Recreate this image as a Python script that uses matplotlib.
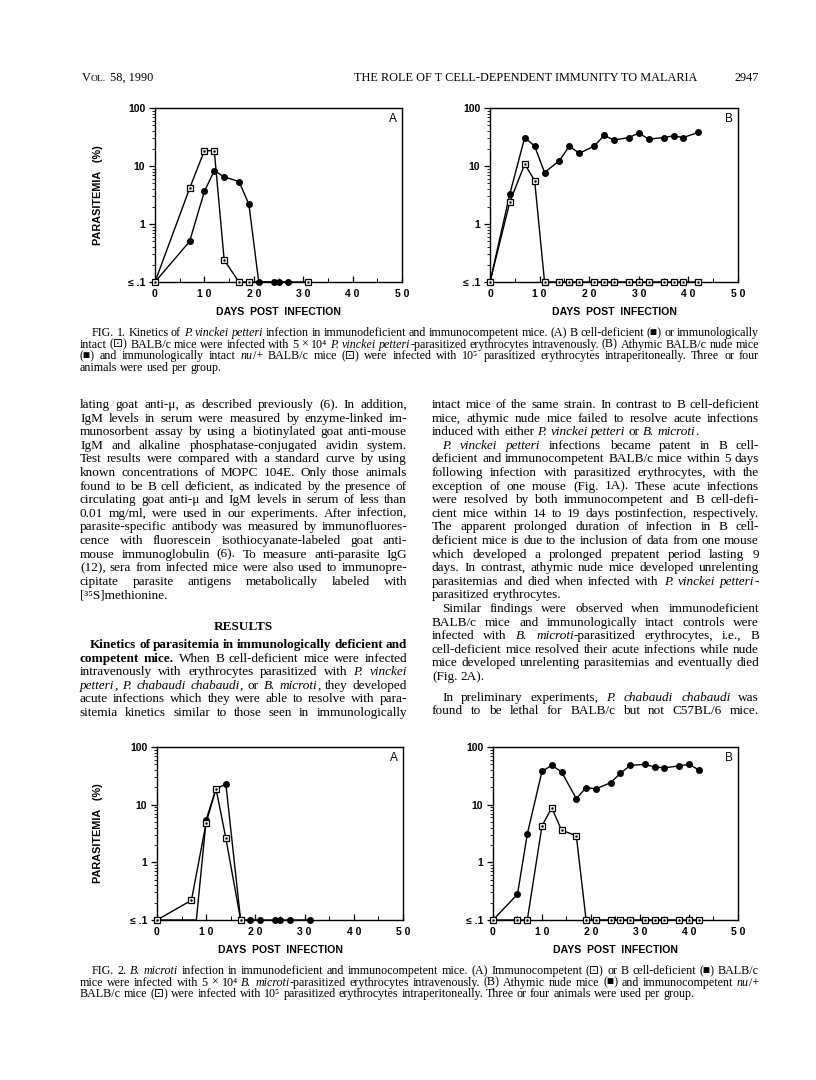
import matplotlib
matplotlib.use('Agg')
import matplotlib.pyplot as plt
from matplotlib.ticker import FixedLocator, NullFormatter, MultipleLocator, LogLocator

# values: days post infection / % parasitemia
# (0.1 = the "<= .1" baseline)
days_1a_intact = [0, 7, 10, 12, 14, 17, 19, 31]
para_1a_intact = [0.1, 4.1, 18.4, 18.4, 0.24, 0.1, 0.1, 0.1]
days_1a_bdef = [0, 7, 10, 12, 14, 17, 19, 21, 24, 25, 27]
para_1a_bdef = [0.1, 0.5, 3.65, 8.3, 6.5, 5.4, 2.2, 0.1, 0.1, 0.1, 0.1]

days_1b = [0, 4, 7, 9, 11, 14, 16, 18, 21, 23, 25, 28, 30, 32, 35, 37, 39, 42]
para_1b_nude = [0.1, 3.3, 31, 22, 7.7, 12.4, 22, 16.6, 22, 33.6, 28, 31, 37, 29, 31, 33, 31, 38]
para_1b_het = [0.1, 2.4, 10.8, 5.6, 0.1, 0.1, 0.1, 0.1, 0.1, 0.1, 0.1, 0.1, 0.1, 0.1, 0.1, 0.1, 0.1, 0.1]

days_2a_intact = [0, 7, 10, 12, 14, 17]
para_2a_intact = [0.1, 0.22, 4.9, 18.8, 2.6, 0.1]
days_2a_bdef = [0, 8, 10, 12, 14, 17, 19, 21, 24, 25, 27, 31]
para_2a_bdef = [0.1, 0.1, 5.5, 19, 22.6, 0.1, 0.1, 0.1, 0.1, 0.1, 0.1, 0.1]

days_2b = [0, 5, 7, 10, 12, 14, 17, 19, 21, 24, 26, 28, 31, 33, 35, 38, 40, 42]
para_2b_nude = [0.1, 0.28, 3.1, 38, 48, 37, 12.7, 19.8, 18.8, 24, 35, 48, 50, 45, 43.6, 47, 50, 40]
para_2b_het = [0.1, 0.1, 0.1, 4.3, 8.8, 3.6, 2.9, 0.1, 0.1, 0.1, 0.1, 0.1, 0.1, 0.1, 0.1, 0.1, 0.1, 0.1]

y_ticks = [0.1, 1, 10, 100]
y_ticklabels = ['\u2264 .1', '1', '10', '100']
x_ticks = [0, 10, 20, 30, 40, 50]
x_ticklabels = ['0', '1 0', '2 0', '3 0', '4 0', '5 0']

# page text (* toggles italic, # toggles bold)
header_mid = 'THE ROLE OF T CELL-DEPENDENT IMMUNITY TO MALARIA'
header_page = '2947'

caption1 = [
    "FIG. 1. Kinetics of *P. vinckei petteri* infection in immunodeficient and immunocompetent mice. (A) B cell-deficient (\u25a0) or immunologically",
    "intact (\u22a1) BALB/c mice were infected with 5 \u00d7 10\u2074 *P. vinckei petteri*-parasitized erythrocytes intravenously. (B) Athymic BALB/c nude mice",
    "(\u25a0) and immunologically intact *nu*/+ BALB/c mice (\u22a1) were infected with 10\u2075 parasitized erythrocytes intraperitoneally. Three or four",
    "animals were used per group.",
]
caption2 = [
    "FIG. 2. *B. microti* infection in immunodeficient and immunocompetent mice. (A) Immunocompetent (\u22a1) or B cell-deficient (\u25a0) BALB/c",
    "mice were infected with 5 \u00d7 10\u2074 *B. microti*-parasitized erythrocytes intravenously. (B) Athymic nude mice (\u25a0) and immunocompetent *nu*/+",
    "BALB/c mice (\u22a1) were infected with 10\u2075 parasitized erythrocytes intraperitoneally. Three or four animals were used per group.",
]

left_col = [
    "lating goat anti-\u03bc, as described previously (6). In addition,",
    "IgM levels in serum were measured by enzyme-linked im-",
    "munosorbent assay by using a biotinylated goat anti-mouse",
    "IgM and alkaline phosphatase-conjugated avidin system.",
    "Test results were compared with a standard curve by using",
    "known concentrations of MOPC 104E. Only those animals",
    "found to be B cell deficient, as indicated by the presence of",
    "circulating goat anti-\u03bc and IgM levels in serum of less than",
    "0.01 mg/ml, were used in our experiments. After infection,",
    "parasite-specific antibody was measured by immunofluores-",
    "cence with fluorescein isothiocyanate-labeled goat anti-",
    "mouse immunoglobulin (6). To measure anti-parasite IgG",
    "(12), sera from infected mice were also used to immunopre-",
    "cipitate parasite antigens metabolically labeled with",
    "[\u00b3\u2075S]methionine.",
]
results_par = [
    "#Kinetics of parasitemia in immunologically deficient and#",
    "#competent mice.# When B cell-deficient mice were infected",
    "intravenously with erythrocytes parasitized with *P. vinckei*",
    "*petteri*, *P. chabaudi chabaudi*, or *B. microti*, they developed",
    "acute infections which they were able to resolve with para-",
    "sitemia kinetics similar to those seen in immunologically",
]
right_col = [
    "intact mice of the same strain. In contrast to B cell-deficient",
    "mice, athymic nude mice failed to resolve acute infections",
    "induced with either *P. vinckei petteri* or *B. microti*.",
    "*P. vinckei petteri* infections became patent in B cell-",
    "deficient and immunocompetent BALB/c mice within 5 days",
    "following infection with parasitized erythrocytes, with the",
    "exception of one mouse (Fig. 1A). These acute infections",
    "were resolved by both immunocompetent and B cell-defi-",
    "cient mice within 14 to 19 days postinfection, respectively.",
    "The apparent prolonged duration of infection in B cell-",
    "deficient mice is due to the inclusion of data from one mouse",
    "which developed a prolonged prepatent period lasting 9",
    "days. In contrast, athymic nude mice developed unrelenting",
    "parasitemias and died when infected with *P. vinckei petteri*-",
    "parasitized erythrocytes.",
    "Similar findings were observed when immunodeficient",
    "BALB/c mice and immunologically intact controls were",
    "infected with *B. microti*-parasitized erythrocytes, i.e., B",
    "cell-deficient mice resolved their acute infections while nude",
    "mice developed unrelenting parasitemias and eventually died",
    "(Fig. 2A).",
]
right_col2 = [
    "In preliminary experiments, *P. chabaudi chabaudi* was",
    "found to be lethal for BALB/c but not C57BL/6 mice.",
]

SERIF = ['Liberation Serif', 'DejaVu Sans']
SANS = ['Liberation Sans', 'DejaVu Sans']
plt.rcParams['font.family'] = SANS

W, H = 816, 1080
fig = plt.figure(figsize=(W / 100, H / 100), dpi=100)
renderer = fig.canvas.get_renderer()


def fpos(x, y):
    return (x / W, 1 - y / H)


def split_words(line):
    words, cur, run, st = [], [], '', 'n'
    for ch in line:
        if ch in '*#':
            if run:
                cur.append((run, st))
                run = ''
            new = 'i' if ch == '*' else 'b'
            st = 'n' if st == new else new
        elif ch == ' ':
            if run:
                cur.append((run, st))
                run = ''
            if cur:
                words.append(cur)
                cur = []
        else:
            run += ch
    if run:
        cur.append((run, st))
    if cur:
        words.append(cur)
    return words


def make_words(line, size):
    words = []
    for w in split_words(line):
        parts = []
        for txt, st in w:
            t = fig.text(0, 0, txt, fontsize=size, family=SERIF, ha='left', va='baseline',
                         fontstyle='italic' if st == 'i' else 'normal',
                         fontweight='bold' if st == 'b' else 'normal')
            parts.append((t, t.get_window_extent(renderer).width))
        words.append(parts)
    return words


def fit_size(blocks, width, min_space=0.22):
    # biggest font size that lets every justified line keep a minimal word gap
    best = 99
    for lines, last, indent, ind in blocks:
        for i, line in enumerate(lines):
            if i in last:
                continue
            words = make_words(line, 10)
            w10 = sum(b for p in words for _, b in p) + (len(words) - 1) * min_space * 10 * 100 / 72
            for p in words:
                for t, _ in p:
                    t.remove()
            avail = width - (ind if i in indent else 0)
            best = min(best, 10 * avail / w10)
    return best


def put_line(line, x0, x1, y, size, justify=True, indent=0):
    words = make_words(line, size)
    widths = [sum(b for _, b in p) for p in words]
    x = x0 + indent
    if justify and len(words) > 1:
        gap = (x1 - x - sum(widths)) / (len(words) - 1)
    else:
        gap = size * 100 / 72 * 0.25
    for parts in words:
        for t, b in parts:
            t.set_position(fpos(x, y))
            x += b
        x += gap


def put_block(lines, x0, x1, y0, step, size, last=(), indent=(), ind=10):
    for i, line in enumerate(lines):
        put_line(line, x0, x1, y0 + i * step, size,
                 justify=i not in last, indent=ind if i in indent else 0)


def panel(left, right, top, bottom, open_d, open_p, fill_d, fill_p, letter, fill_marks=None):
    ax = fig.add_axes([left / W, 1 - bottom / H, (right - left) / W, (bottom - top) / H])
    ax.set_yscale('log')
    ax.plot(fill_d, fill_p, '-', color='k', lw=1.0, zorder=2, clip_on=False)
    ax.plot(open_d, open_p, '-', color='k', lw=1.0, zorder=2, clip_on=False)
    ax.plot(fill_d, fill_p, 'o', color='k', ms=4, zorder=4, clip_on=False, markevery=fill_marks)
    ax.plot(open_d, open_p, 's', mfc='white', mec='k', mew=0.9, ms=4.3, zorder=5, clip_on=False)
    ax.plot(open_d, open_p, '.', color='k', ms=1.6, zorder=6, clip_on=False)
    ax.set_xlim(0, 50)
    ax.set_ylim(0.1, 100)
    ax.yaxis.set_major_locator(FixedLocator(y_ticks))
    ax.set_yticklabels(y_ticklabels)
    ax.yaxis.set_minor_locator(LogLocator(base=10, subs=range(2, 10)))
    ax.yaxis.set_minor_formatter(NullFormatter())
    ax.xaxis.set_major_locator(FixedLocator(x_ticks))
    ax.set_xticklabels(x_ticklabels)
    ax.xaxis.set_minor_locator(MultipleLocator(5))
    ax.tick_params(axis='y', which='major', direction='out', length=4, width=0.9,
                   labelsize=7.5, pad=3)
    ax.tick_params(axis='y', which='minor', direction='out', length=2.2, width=0.6)
    ax.tick_params(axis='x', which='major', direction='in', length=4, width=0.9,
                   labelsize=7.5, pad=5)
    ax.tick_params(axis='x', which='minor', direction='in', length=3, width=0.7)
    for lab in ax.get_xticklabels() + ax.get_yticklabels():
        lab.set_fontweight('bold')
    for sp in ax.spines.values():
        sp.set_linewidth(1.0)
    ax.text(0.963, 0.935, letter, transform=ax.transAxes, ha='center', va='center', fontsize=8.5)
    fig.text(*fpos((left + right) / 2, bottom + 30), 'DAYS  POST  INFECTION', ha='center',
             va='center', fontsize=7.6, fontweight='bold')
    return ax


# header
hl = fig.text(*fpos(82, 81), 'V', fontsize=8.8, family=SERIF, va='baseline')
x = 82 + hl.get_window_extent(renderer).width
hl2 = fig.text(*fpos(x, 81), 'OL.', fontsize=6.8, family=SERIF, va='baseline')
x += hl2.get_window_extent(renderer).width
fig.text(*fpos(x + 1, 81), ' 58, 1990', fontsize=8.8, family=SERIF, va='baseline')
fig.text(*fpos(526, 81), header_mid, fontsize=8.8, family=SERIF, ha='center', va='baseline')
fig.text(*fpos(759, 81), header_page, fontsize=8.8, family=SERIF, ha='right', va='baseline')

# font sizes fitted to the justified columns
body_size = fit_size([(left_col, (14,), (), 10), (results_par, (), (0,), 10),
                      (right_col, (2, 14, 20), (3, 15), 10), (right_col2, (), (0,), 10)], 327)
cap_size = fit_size([(caption1, (3,), (0,), 12), (caption2, (2,), (0,), 12)], 679)

# figure 1
panel(155, 402, 108, 282, days_1a_intact, para_1a_intact, days_1a_bdef, para_1a_bdef, 'A')
panel(490, 738, 108, 282, days_1b, para_1b_het, days_1b, para_1b_nude, 'B')
fig.text(*fpos(98, 195), 'PARASITEMIA   (%)', rotation=90, ha='center', va='center',
         fontsize=7.8, fontweight='bold')
put_block(caption1, 80, 759, 336, 11.6, cap_size, last=(3,), indent=(0,), ind=12)

# body text
put_block(left_col, 80, 407, 408, 13.6, body_size, last=(14,))
fig.text(*fpos(243.5, 630), 'RESULTS', family=SERIF, fontsize=body_size, fontweight='bold',
         ha='center', va='baseline')
put_block(results_par, 80, 407, 648, 13.6, body_size, indent=(0,))
put_block(right_col, 432, 759, 408, 13.6, body_size, last=(2, 14, 20), indent=(3, 15))
put_block(right_col2, 432, 759, 408 + 21 * 13.6 + 7, 13.6, body_size, indent=(0,))

# figure 2 (no marker where the B cell-deficient line leaves the baseline at day 8)
panel(157, 403, 747, 920, days_2a_intact, para_2a_intact, days_2a_bdef, para_2a_bdef, 'A',
      fill_marks=[0] + list(range(2, len(days_2a_bdef))))
panel(493, 738, 747, 920, days_2b, para_2b_het, days_2b, para_2b_nude, 'B')
fig.text(*fpos(98, 833.5), 'PARASITEMIA   (%)', rotation=90, ha='center', va='center',
         fontsize=7.8, fontweight='bold')
put_block(caption2, 80, 759, 974, 11.6, cap_size, last=(2,), indent=(0,), ind=12)

fig.savefig('out.png', dpi=100)
